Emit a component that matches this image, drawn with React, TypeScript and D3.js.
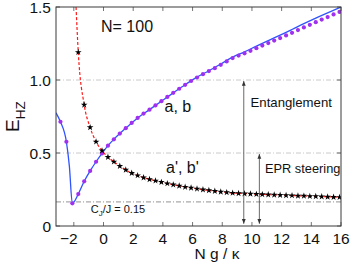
import React from 'react';
import * as d3 from 'd3';

// ticks
const xTicks = [-2, 0, 2, 4, 6, 8, 10, 12, 14, 16];
const yTicks = [0, 0.5, 1, 1.5];
const yTickLabels = ['0', '0.5', '1.0', '1.5'];

// a, b : solid blue curve
const blueX = [-3.2, -2.9, -2.5, -2.3, -2.1, -1.7, -1.3, -0.9, -0.5, -0.1, 0.3, 0.7, 1.5, 2.3, 3.1, 3.9, 4.7, 5.5, 6.3, 7.1, 7.9, 8.7, 9.5, 10.3, 11.1, 11.9, 12.7, 13.5, 14.3, 15.1, 16];
const blueY = [0.775, 0.714, 0.577, 0.41, 0.155, 0.219, 0.306, 0.377, 0.44, 0.497, 0.55, 0.594, 0.67, 0.74, 0.797, 0.855, 0.912, 0.968, 1.02, 1.063, 1.11, 1.157, 1.193, 1.232, 1.27, 1.307, 1.346, 1.386, 1.424, 1.46, 1.5];

// a, b : purple dots
const dotX = [-2.9, -2.5, -2.1, -1.7, -1.3, -0.9, -0.5, -0.1, 0.3, 0.7, 1.1, 1.5, 1.9, 2.3, 2.7, 3.1, 3.5, 3.9, 4.3, 4.7, 5.1, 5.5, 5.9, 6.3, 6.7, 7.1, 7.5, 7.9, 8.3, 8.7, 9.1, 9.5, 9.9, 10.3, 10.7, 11.1, 11.5, 11.9, 12.3, 12.7, 13.1, 13.5, 13.9, 14.3, 14.7, 15.1, 15.5, 15.9];
const dotY = [0.714, 0.577, 0.155, 0.219, 0.306, 0.377, 0.44, 0.497, 0.55, 0.594, 0.633, 0.67, 0.706, 0.74, 0.77, 0.797, 0.826, 0.855, 0.884, 0.912, 0.94, 0.967, 0.993, 1.017, 1.04, 1.061, 1.081, 1.104, 1.127, 1.15, 1.167, 1.183, 1.2, 1.218, 1.236, 1.253, 1.27, 1.287, 1.305, 1.323, 1.342, 1.36, 1.378, 1.396, 1.414, 1.431, 1.449, 1.466];

// a', b' : stars on red dashed curve
const starX = [-1.7, -1.3, -0.9, -0.5, -0.1, 0.3, 0.7, 1.1, 1.5, 1.9, 2.3, 2.7, 3.1, 3.5, 3.9, 4.3, 4.7, 5.1, 5.5, 5.9, 6.3, 6.7, 7.1, 7.5, 7.9, 8.3, 8.7, 9.1, 9.5, 9.9, 10.3, 10.7, 11.1, 11.5, 11.9, 12.3, 12.7, 13.1, 13.5, 13.9, 14.3, 14.7, 15.1, 15.5, 15.9];
const starY = [1.19, 0.83, 0.675, 0.577, 0.516, 0.472, 0.44, 0.41, 0.385, 0.362, 0.346, 0.332, 0.32, 0.31, 0.3, 0.291, 0.283, 0.275, 0.267, 0.261, 0.255, 0.249, 0.244, 0.239, 0.234, 0.23, 0.226, 0.224, 0.222, 0.22, 0.218, 0.216, 0.215, 0.213, 0.212, 0.21, 0.209, 0.207, 0.206, 0.204, 0.203, 0.201, 0.2, 0.198, 0.197];
const redTop = [-1.85, 1.5];

// reference levels and arrows
const gridLevels = [1.0, 0.5];
const cjLevel = 0.165;
const arrowX = [9.45, 10.5];
const arrowTop = [1.0, 0.5];
const arrowBottom = 0.015;

const W = 353;
const H = 268;
const font = '"Liberation Sans", Arial, Helvetica, sans-serif';

export default function App() {
  const x = d3.scaleLinear().domain([-3.2, 16]).range([56, 341]);
  const y = d3.scaleLinear().domain([0, 1.5]).range([226, 7]);
  const [x0, x1] = x.range();
  const [y0, y1] = y.range();

  const line = d3.line<[number, number]>()
    .x(d => x(d[0]))
    .y(d => y(d[1]))
    .curve(d3.curveMonotoneX);

  const bluePts = blueX.map((v, i) => [v, blueY[i]] as [number, number]);
  const redPts = [redTop as [number, number], ...starX.map((v, i) => [v, starY[i]] as [number, number])];
  const star = d3.symbol().type(d3.symbolStar).size(14)();

  const frame = '#3a3a3a';
  const tick = 4;

  return (
    <svg width={W} height={H} style={{ position: 'absolute', left: 0, top: 0, background: '#fff' }}>
      <defs>
        <clipPath id="plot">
          <rect x={x0} y={y1} width={x1 - x0} height={y0 - y1} />
        </clipPath>
        <marker id="ah" viewBox="0 0 6 6" refX="6" refY="3" markerWidth="6" markerHeight="6" orient="auto-start-reverse">
          <path d="M0,0.6 L6,3 L0,5.4 Z" fill="#333" />
        </marker>
      </defs>

      {/* reference lines */}
      {gridLevels.map(v => (
        <line key={v} x1={x0} x2={x1} y1={y(v)} y2={y(v)} stroke="#bdbdbd" strokeWidth={0.8} strokeDasharray="5,2,1,2" />
      ))}
      <line x1={x0} x2={x1} y1={y(cjLevel)} y2={y(cjLevel)} stroke="#777" strokeWidth={0.8} strokeDasharray="5,2,1,2" />

      <g clipPath="url(#plot)">
        <path d={line(bluePts) || ''} fill="none" stroke="#2f54ff" strokeWidth={1.3} />
        {dotX.map((v, i) => (
          <circle key={i} cx={x(v)} cy={y(dotY[i])} r={2.1} fill="#a030f0" />
        ))}
        <path d={line(redPts) || ''} fill="none" stroke="#ff1a1a" strokeWidth={1.2} strokeDasharray="3,2" />
        {starX.map((v, i) => (
          <path key={i} d={star || ''} transform={`translate(${x(v)},${y(starY[i])})`} fill="#000" />
        ))}
      </g>

      {/* arrows */}
      {arrowX.map((v, i) => (
        <line key={v} x1={x(v)} x2={x(v)} y1={y(arrowTop[i]) + 1} y2={y(arrowBottom)}
          stroke="#444" strokeWidth={0.8} markerStart="url(#ah)" markerEnd="url(#ah)" />
      ))}

      {/* frame and ticks */}
      <rect x={x0} y={y1} width={x1 - x0} height={y0 - y1} fill="none" stroke={frame} strokeWidth={1} />
      {xTicks.map(v => (
        <g key={v}>
          <line x1={x(v)} x2={x(v)} y1={y0} y2={y0 - tick} stroke={frame} strokeWidth={0.7} />
          <line x1={x(v)} x2={x(v)} y1={y1} y2={y1 + tick} stroke={frame} strokeWidth={0.7} />
          <text x={x(v) - (v < 0 ? 5 : 0)} y={243.5} textAnchor="middle" fontFamily={font} fontSize={15.5} fill="#111">
            {v < 0 ? '\u2212' + Math.abs(v) : String(v)}
          </text>
        </g>
      ))}
      {yTicks.map((v, i) => (
        <g key={v}>
          <line x1={x0} x2={x0 + tick} y1={y(v)} y2={y(v)} stroke={frame} strokeWidth={0.7} />
          <line x1={x1} x2={x1 - tick} y1={y(v)} y2={y(v)} stroke={frame} strokeWidth={0.7} />
          <text x={51} y={y(v)} dy="0.36em" textAnchor="end" fontFamily={font} fontSize={15.5} fill="#111">
            {yTickLabels[i]}
          </text>
        </g>
      ))}

      {/* labels */}
      <text x={217} y={259} textAnchor="middle" fontFamily={font} fontSize={15.5} fill="#111">N g / κ</text>
      <text transform="translate(18.5,132) rotate(-90)" fontFamily={font} fill="#111">
        <tspan fontSize={19}>E</tspan>
        <tspan fontSize={13.5} dy={6}>HZ</tspan>
      </text>

      <text x={101} y={31.5} fontFamily={font} fontSize={16} fill="#111">N= 100</text>
      <text x={164.5} y={111.5} fontFamily={font} fontSize={16} fill="#111">a, b</text>
      <text x={166} y={173} fontFamily={font} fontSize={16} fill="#111">a', b'</text>
      <text x={250.5} y={106.5} fontFamily={font} fontSize={13.2} fill="#111">Entanglement</text>
      <text x={265} y={173.3} fontFamily={font} fontSize={12.8} fill="#111">EPR steering</text>
      <text x={90.7} y={213} fontFamily={font} fontSize={11} fill="#111">
        C<tspan fontSize={8} dy={3}>J</tspan><tspan dy={-3}>/J = 0.15</tspan>
      </text>
    </svg>
  );
}
